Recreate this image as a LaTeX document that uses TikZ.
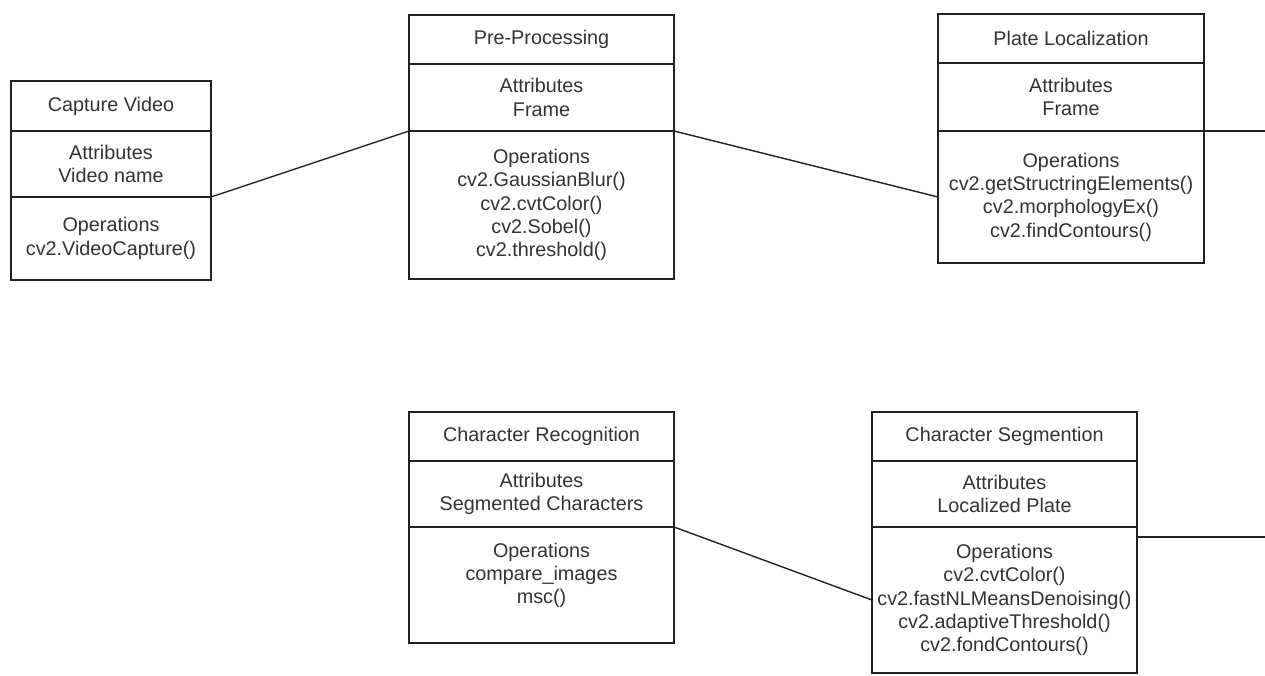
\documentclass[tikz,border=0pt]{standalone}
\usepackage{fontspec}
\setsansfont{Liberation Sans}
\usepackage{xcolor}
\usetikzlibrary{positioning}
\definecolor{UMLInk}{HTML}{222222}
\definecolor{UMLText}{HTML}{333333}

\begin{document}
\begin{tikzpicture}[
    x=1pt,y=-1pt,font={\sffamily\fontsize{19.8}{23.3}\selectfont},
    part/.style={draw=UMLInk,line width=1.5pt,fill=white,text=UMLText,
      align=center,inner sep=0pt,outer sep=0pt},
    narrow/.style={part,minimum width=200pt},
    wide/.style={part,minimum width=265pt},
    link/.style={draw=UMLInk,line width=1.4pt}
  ]
    \useasboundingbox (0,0) rectangle (1265,675);

    % top row
    \node[narrow,minimum height=50pt] (cap) at (111,106) {Capture Video};
    \node[narrow,minimum height=66pt,below=0pt of cap] (capAttr) {Attributes\\Video name};
    \node[narrow,minimum height=83pt,below=0pt of capAttr] (capOps) {Operations\\cv2.VideoCapture()};

    \node[wide,minimum height=49pt] (pre) at (541.5,39.5) {Pre-Processing};
    \node[wide,minimum height=67pt,below=0pt of pre] (preAttr) {Attributes\\Frame};
    \node[wide,minimum height=148pt,below=0pt of preAttr] (preOps) {Operations\\cv2.GaussianBlur()\\cv2.cvtColor()\\cv2.Sobel()\\cv2.threshold()};

    \node[wide,minimum width=266pt,minimum height=49pt] (loc) at (1071,38.5) {Plate Localization};
    \node[wide,minimum width=266pt,minimum height=68pt,below=0pt of loc] (locAttr) {Attributes\\Frame};
    \node[wide,minimum width=266pt,minimum height=132pt,below=0pt of locAttr] (locOps) {Operations\\cv2.getStructringElements()\\cv2.morphologyEx()\\cv2.findContours()};

    % bottom row
    \node[wide,minimum height=49pt] (rec) at (541.5,436.5) {Character Recognition};
    \node[wide,minimum height=66pt,below=0pt of rec] (recAttr) {Attributes\\Segmented Characters};
    \node[wide,minimum height=116pt,below=0pt of recAttr] (recOps) {Operations\\compare\_images\\msc()\\~};

    \node[wide,minimum height=49pt] (seg) at (1004.5,436.5) {Character Segmention};
    \node[wide,minimum height=66pt,below=0pt of seg] (segAttr) {Attributes\\Localized Plate};
    \node[wide,minimum height=146pt,below=0pt of segAttr] (segOps) {Operations\\cv2.cvtColor()\\cv2.fastNLMeansDenoising()\\cv2.adaptiveThreshold()\\cv2.fondContours()};

    \coordinate (rimA) at (1265,131);
    \coordinate (rimB) at (1265,537);

    \draw[link] (capAttr.south east) -- (preAttr.south west);
    \draw[link] (preAttr.south east) -- (locOps.west);
    \draw[link] (locAttr.south east) -- (rimA);
    \draw[link] (recAttr.south east) -- (segOps.west);
    \draw[link] (segOps.east |- rimB) -- (rimB);
  \end{tikzpicture}
\end{document}
